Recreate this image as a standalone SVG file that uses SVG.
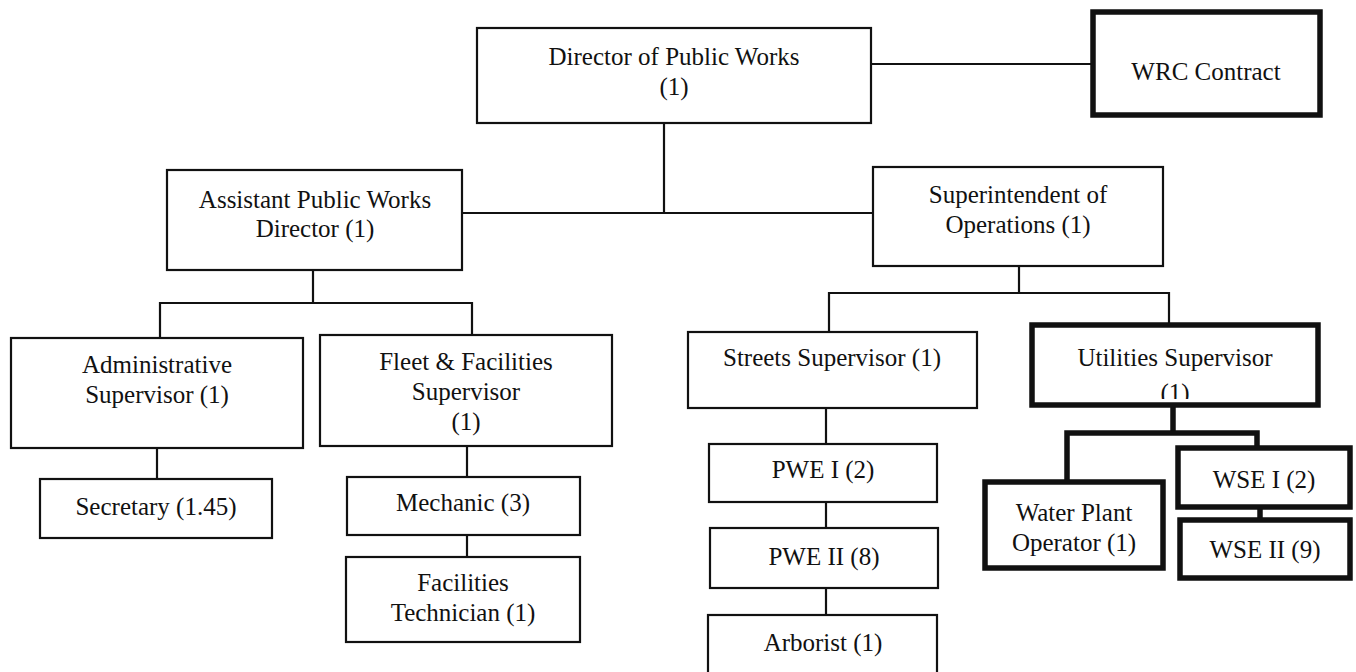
<svg xmlns="http://www.w3.org/2000/svg" width="1356" height="672" viewBox="0 0 1356 672">
<style>
  .box { fill: #fff; stroke: #111; stroke-width: 2.2; }
  .thick { fill: none; stroke: #111; stroke-width: 5.5; }
  .fill { fill: #fff; stroke: none; }
  .ln { fill: none; stroke: #111; stroke-width: 2.2; }
  .tln { fill: none; stroke: #111; stroke-width: 5.5; }
  text { font-family: "Liberation Serif", "Times New Roman", serif; font-size: 25px; fill: #111; text-anchor: middle; }
</style>
<defs>
  <clipPath id="utilClip">
    <rect x="1032" y="325" width="286" height="74"/>
  </clipPath>
</defs>
<rect width="1356" height="672" fill="#fff"/>
<g id="connectors">
  <line class="ln" x1="871" y1="64" x2="1093" y2="64"/>
  <line class="ln" x1="664" y1="123" x2="664" y2="213"/>
  <line class="ln" x1="462" y1="213" x2="873" y2="213"/>
  <polyline class="ln" points="313,270 313,303"/>
  <polyline class="ln" points="160,338 160,303 472,303 472,335"/>
  <line class="ln" x1="157" y1="448" x2="157" y2="479"/>
  <line class="ln" x1="467" y1="446" x2="467" y2="477"/>
  <line class="ln" x1="467" y1="535" x2="467" y2="557"/>
  <line class="ln" x1="1019" y1="266" x2="1019" y2="293"/>
  <polyline class="ln" points="829,332 829,293 1169,293 1169,325"/>
  <line class="ln" x1="826" y1="408" x2="826" y2="444"/>
  <line class="ln" x1="826" y1="502" x2="826" y2="528"/>
  <line class="ln" x1="826" y1="588" x2="826" y2="615"/>
  <line class="tln" x1="1173" y1="405" x2="1173" y2="433"/>
  <polyline class="tln" points="1067,482 1067,433 1257,433 1257,448"/>
  <line class="tln" x1="1260" y1="507" x2="1260" y2="520"/>
</g>
<g id="director">
  <rect class="box" x="477" y="28" width="394" height="95"/>
  <text x="674" y="65">Director of Public Works</text>
  <text x="674" y="95">(1)</text>
</g>
<g id="wrc">
  <rect class="fill" x="1093" y="12" width="227" height="103"/>
  <rect class="thick" x="1093" y="12" width="227" height="103"/>
  <text x="1206" y="80">WRC Contract</text>
</g>
<g id="assistant">
  <rect class="box" x="167" y="170" width="295" height="100"/>
  <text x="315" y="208">Assistant Public Works</text>
  <text x="315" y="237">Director (1)</text>
</g>
<g id="superintendent">
  <rect class="box" x="873" y="167" width="290" height="99"/>
  <text x="1018" y="203">Superintendent of</text>
  <text x="1018" y="233">Operations (1)</text>
</g>
<g id="admin">
  <rect class="box" x="11" y="338" width="292" height="110"/>
  <text x="157" y="373">Administrative</text>
  <text x="157" y="403">Supervisor (1)</text>
</g>
<g id="fleet">
  <rect class="box" x="320" y="335" width="292" height="111"/>
  <text x="466" y="370">Fleet &amp; Facilities</text>
  <text x="466" y="400">Supervisor</text>
  <text x="466" y="430">(1)</text>
</g>
<g id="secretary">
  <rect class="box" x="40" y="479" width="232" height="59"/>
  <text x="156" y="515">Secretary (1.45)</text>
</g>
<g id="mechanic">
  <rect class="box" x="347" y="477" width="233" height="58"/>
  <text x="463" y="511">Mechanic (3)</text>
</g>
<g id="facilities-tech">
  <rect class="box" x="346" y="557" width="234" height="85"/>
  <text x="463" y="591">Facilities</text>
  <text x="463" y="621">Technician (1)</text>
</g>
<g id="streets">
  <rect class="box" x="688" y="332" width="289" height="76"/>
  <text x="832" y="366">Streets Supervisor (1)</text>
</g>
<g id="pwe1">
  <rect class="box" x="709" y="444" width="228" height="58"/>
  <text x="823" y="478">PWE I (2)</text>
</g>
<g id="pwe2">
  <rect class="box" x="710" y="528" width="228" height="60"/>
  <text x="824" y="565">PWE II (8)</text>
</g>
<g id="arborist">
  <rect class="box" x="708" y="615" width="229" height="70"/>
  <text x="823" y="651">Arborist (1)</text>
</g>
<g id="utilities">
  <rect class="fill" x="1032" y="325" width="286" height="80"/>
  <text x="1175" y="401" clip-path="url(#utilClip)">(1)</text>
  <text x="1175" y="366">Utilities Supervisor</text>
  <rect class="thick" x="1032" y="325" width="286" height="80"/>
</g>
<g id="water-plant">
  <rect class="fill" x="985" y="482" width="178" height="86"/>
  <rect class="thick" x="985" y="482" width="178" height="86"/>
  <text x="1074" y="521">Water Plant</text>
  <text x="1074" y="551">Operator (1)</text>
</g>
<g id="wse1">
  <rect class="fill" x="1178" y="448" width="172" height="59"/>
  <rect class="thick" x="1178" y="448" width="172" height="59"/>
  <text x="1264" y="488">WSE I (2)</text>
</g>
<g id="wse2">
  <rect class="fill" x="1180" y="520" width="170" height="58"/>
  <rect class="thick" x="1180" y="520" width="170" height="58"/>
  <text x="1265" y="558">WSE II (9)</text>
</g>
</svg>
